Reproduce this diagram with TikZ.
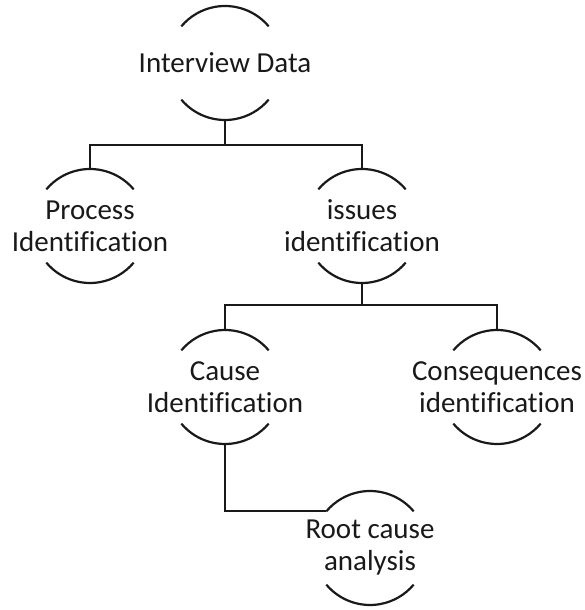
\documentclass[tikz,border=0pt]{standalone}
\usepackage{fontspec}
\setmainfont[Ligatures={NoCommon}]{Carlito}
\usetikzlibrary{calc}
\newcommand\mkarcnode[3]{%
  \node[lbl] (#1) at (#2) {#3};
  \coordinate (#1-t) at ($(#1.center)+(0,57)$);
  \coordinate (#1-b) at ($(#1.center)+(0,-57)$);
  \coordinate (#1-l) at ($(#1.center)+(140:57)$);
  \draw[arcline] ($(#1.center)+(40:57)$) arc[start angle=40,end angle=140,radius=57];
  \draw[arcline] ($(#1.center)+(220:57)$) arc[start angle=220,end angle=320,radius=57];
}
\begin{document}
\begin{tikzpicture}[x=1pt,y=1pt,
  lbl/.style={inner sep=0pt,align=center,font=\fontsize{29}{32}\selectfont,text=black!90},
  arcline/.style={line width=2.2pt,black!90},
  conn/.style={line width=2pt,black!90}]
\useasboundingbox (0,0) rectangle (584,610);
\mkarcnode{id}{225,547}{Interview Data}
\mkarcnode{pi}{90,384}{Process\\Identification}
\mkarcnode{ii}{362,384}{issues\\identification}
\mkarcnode{ci}{225,223}{Cause\\Identification}
\mkarcnode{cq}{497,223}{Consequences\\identification}
\mkarcnode{rc}{370,62}{Root cause\\analysis}
\coordinate (j1) at (225,465);
\coordinate (j2) at (362,305);
\draw[conn] (id-b) -- (j1);
\draw[conn] (pi-t) |- (j1) -| (ii-t);
\draw[conn] (ii-b) -- (j2);
\draw[conn] (ci-t) |- (j2) -| (cq-t);
\draw[conn] (ci-b) |- (rc-l);
\end{tikzpicture}
\end{document}
